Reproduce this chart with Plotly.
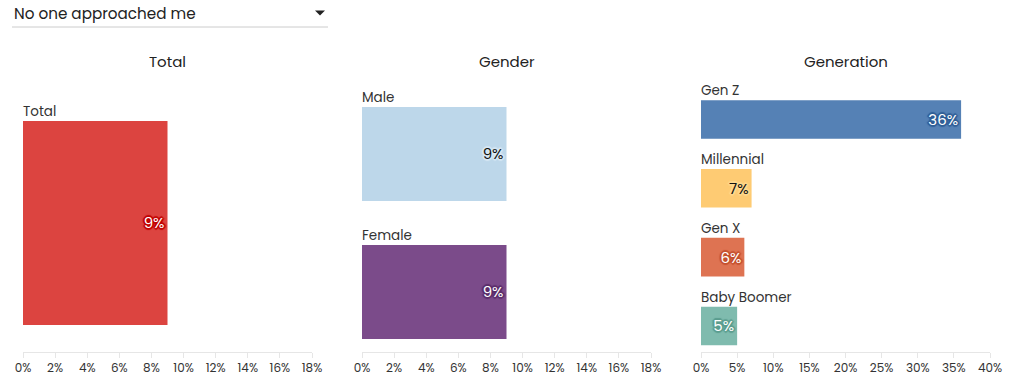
import plotly.graph_objects as go

dropdown_label = "No one approached me"

total_cats = ["Total"]
total_vals = [9]
total_colors = ["#DC4440"]

gender_cats = ["Male", "Female"]
gender_vals = [9, 9]
gender_colors = ["#BDD7EA", "#7B4B8A"]

gen_cats = ["Gen Z", "Millennial", "Gen X", "Baby Boomer"]
gen_vals = [36, 7, 6, 5]
gen_colors = ["#5581B5", "#FECB73", "#DE7352", "#7FBBAE"]

panel_titles = ["Total", "Gender", "Generation"]
ticks_18 = [0, 2, 4, 6, 8, 10, 12, 14, 16, 18]
ticks_40 = [0, 5, 10, 15, 20, 25, 30, 35, 40]

FONT = "Poppins, Inter, Lato, sans-serif"
W, H = 1024, 386

HALO = {"#DC4440": ("white", "#C00000"),
        "#BDD7EA": ("#111", "#D8E8F4"),
        "#7B4B8A": ("white", "#5A2D6A"),
        "#5581B5": ("white", "#2F5E96"),
        "#FECB73": ("#111", "#FFD98F"),
        "#DE7352": ("white", "#C4502E"),
        "#7FBBAE": ("white", "#5A9C8E")}

def text_style(color):
    fc, halo = HALO[color]
    sh = ", ".join([f"{dx}px {dy}px 1px {halo}" for dx, dy in
                    [(-1, -1), (1, -1), (-1, 1), (1, 1), (0, 2), (2, 0), (-2, 0), (0, -2)]])
    return fc, sh

fig = go.Figure()

panels = [
    (total_cats, total_vals, total_colors, "x", "y", 0.8),
    (gender_cats, gender_vals, gender_colors, "x2", "y2", 94 / 138),
    (gen_cats, gen_vals, gen_colors, "x3", "y3", 38.5 / 68.8),
]

for cats, vals, cols, xa, ya, bw in panels:
    for c, v, col in zip(cats, vals, cols):
        fc, sh = text_style(col)
        fig.add_trace(go.Bar(
            x=[v], y=[c], orientation="h", xaxis=xa, yaxis=ya,
            marker=dict(color=col, line=dict(width=0)),
            width=bw,
            text=[f"{v}%"], textposition="inside", insidetextanchor="end",
            textangle=0,
            textfont=dict(family=FONT, size=15, color=fc, shadow=sh),
            hoverinfo="skip", showlegend=False,
        ))

ydom = [1 - 352 / H, 1 - 85 / H]
xdoms = [[23 / W, 312 / W], [362 / W, 651 / W], [701 / W, 990 / W]]

def xaxis(dom, rng, ticks):
    return dict(domain=dom, range=rng, tickmode="array", tickvals=ticks,
                ticktext=[f"{t}%" for t in ticks],
                showgrid=False, zeroline=False, showline=True, linecolor="#E6E6E6",
                linewidth=1, ticks="outside", ticklen=5, tickcolor="#E6E6E6",
                tickfont=dict(family=FONT, size=12, color="#333"), fixedrange=True)

def yaxis(rng, cats):
    return dict(domain=ydom, range=rng, type="category", categoryorder="array",
                categoryarray=cats, showticklabels=False, showgrid=False,
                zeroline=False, showline=False, ticks="", fixedrange=True)

fig.update_layout(
    width=W, height=H, margin=dict(l=0, r=0, t=0, b=0, autoexpand=False),
    paper_bgcolor="white", plot_bgcolor="white", barmode="overlay",
    xaxis=xaxis(xdoms[0], [0, 18], ticks_18),
    xaxis2=xaxis(xdoms[1], [0, 18], ticks_18),
    xaxis3=xaxis(xdoms[2], [0, 40], ticks_40),
    yaxis=dict(yaxis([0.506, -0.541], total_cats), anchor="x"),
    yaxis2=dict(yaxis([1.435, -0.5], gender_cats), anchor="x2"),
    yaxis3=dict(yaxis([3.378, -0.5], gen_cats), anchor="x3"),
    font=dict(family=FONT, color="#333"),
)

# category labels above bars
for cats, xa, ya, bw, unit in [(total_cats, "x", "y", 0.8, 255),
                               (gender_cats, "x2", "y2", 94 / 138, 138),
                               (gen_cats, "x3", "y3", 38.5 / 68.8, 68.8)]:
    for c in cats:
        fig.add_annotation(x=0, y=c, xref=xa, yref=ya, text=c, showarrow=False,
                           xanchor="left", yanchor="bottom",
                           yshift=bw * unit / 2 - 2, xshift=-2,
                           font=dict(family=FONT, size=13.5, color="#333"))

# panel titles
for t, d in zip(panel_titles, xdoms):
    fig.add_annotation(x=(d[0] + d[1]) / 2, y=1 - 61 / H, xref="paper", yref="paper",
                       text=t, showarrow=False, xanchor="center", yanchor="middle",
                       font=dict(family=FONT, size=15, color="#222"))

# dropdown imitation
fig.add_annotation(x=12 / W, y=1 - 13 / H, xref="paper", yref="paper",
                   text=dropdown_label, showarrow=False, xanchor="left",
                   yanchor="middle", font=dict(family=FONT, size=15.2, color="#222"))
fig.add_shape(type="path", xref="paper", yref="paper",
              path=f"M {315 / W} {1 - 10.5 / H} L {325 / W} {1 - 10.5 / H} L {320 / W} {1 - 15.5 / H} Z",
              fillcolor="#222", line=dict(width=0))
fig.add_shape(type="line", xref="paper", yref="paper",
              x0=12 / W, x1=328 / W, y0=1 - 27 / H, y1=1 - 27 / H,
              line=dict(color="#CCCCCC", width=1))

fig.write_html("out.html", config={"displayModeBar": False},
               post_script="document.body.style.margin='0';document.body.style.overflow='hidden';")
